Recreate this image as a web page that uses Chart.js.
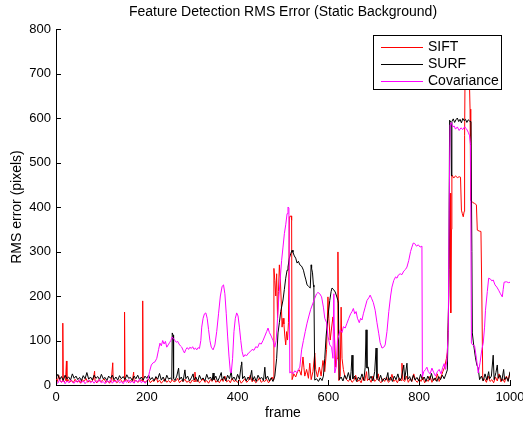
<!DOCTYPE html>
<html>
<head>
<meta charset="utf-8">
<script src="https://cdn.jsdelivr.net/npm/chart.js@4.4.1/dist/chart.umd.min.js"></script>
<style>
  html, body { margin: 0; padding: 0; background: #fff; }
  #wrap { width: 523px; height: 423px; }
</style>
</head>
<body>
<div id="wrap"><canvas id="c" width="523" height="423"></canvas></div>
<script>
// frame, RMS error (pixels)
var siftPts = [
  [0,14],[3,8],[6,22],[9,10],[12,6],[14,9],[15,139],[16,12],[18,7],[21,10],[23,54],[24,8],[27,12],[30,6],[34,11],[38,5],
  [42,13],[46,7],[50,10],[54,4],[58,12],[62,8],[66,15],[70,6],[74,10],[78,7],[82,12],[85,31],[86,9],[90,5],[94,12],[98,7],
  [102,10],[106,14],[110,6],[114,9],[118,4],[122,12],[125,50],[126,8],[130,11],[134,5],[138,9],[142,13],[146,6],[150,10],
  [151,164],[152,9],[156,12],[160,5],[164,10],[168,7],[171,29],[172,8],[176,11],[180,6],[184,9],[188,12],[190,8],[191,189],
  [192,10],[196,6],[200,9],[204,13],[208,5],[212,10],[216,8],[221,18],[224,6],[228,11],[232,4],[236,9],[240,14],[244,6],
  [248,10],[252,5],[256,12],[260,7],[264,9],[268,15],[272,5],[276,10],[280,8],[284,13],[288,6],[292,9],[296,4],[300,11],
  [304,8],[306,29],[308,7],[312,12],[316,5],[320,9],[324,14],[328,6],[332,10],[336,4],[340,12],[344,8],[348,18],[352,6],
  [356,10],[360,5],[364,13],[368,8],[372,20],[376,7],[380,11],[384,5],[388,15],[392,8],[396,10],[400,6],[404,12],[408,4],
  [412,9],[416,14],[420,6],[424,10],[428,22],[432,7],[436,12],[440,5],[444,9],[448,16],[452,6],[456,10],[460,8],[464,13],
  [468,5],[472,10],[476,18],[478,12],[480,262],[482,235],[484,200],[486,250],[488,150],[490,210],[492,270],[494,240],
  [496,191],[498,130],[500,150],[502,137],[504,110],[506,90],[508,120],[510,101],[512,140],[514,378],[518,380],[519,370],
  [520,12],[524,25],[528,18],[532,30],[536,34],[540,22],[544,63],[546,40],[548,20],[552,35],[556,15],[559,49],[562,12],
  [566,30],[570,72],[572,35],[576,18],[580,40],[584,20],[588,55],[592,30],[596,80],[599,198],[601,150],[604,101],[607,128],
  [610,153],[613,120],[616,40],[619,60],[621,299],[623,10],[626,20],[628,175],[630,60],[633,35],[636,20],[640,12],
  [644,8],[648,15],[652,6],[656,10],[660,22],[664,7],[668,12],[672,5],[676,18],[680,9],[684,30],[686,10],[690,14],[694,6],
  [698,20],[702,8],[706,12],[710,25],[712,9],[716,5],[720,14],[724,8],[728,18],[732,6],[736,10],[740,24],[744,8],[748,12],
  [752,5],[756,16],[760,10],[762,49],[764,12],[768,8],[772,20],[776,6],[780,14],[784,8],[788,25],[792,10],[796,6],[800,14],
  [804,8],[808,18],[812,5],[816,12],[820,8],[824,20],[828,6],[832,14],[836,10],[840,25],[844,8],[848,18],[852,30],[856,40],
  [860,60],[862,74],[864,140],[866,260],[868,431],[869,300],[870,162],[871,350],[872,472],[876,465],[880,470],[884,466],
  [888,468],[891,467],[893,393],[895,385],[897,378],[899,390],[900,560],[901,700],[904,720],[907,690],[910,710],[912,620],
  [913,595],[914,415],[918,410],[922,408],[926,405],[928,348],[932,346],[936,345],[938,200],[940,10],[944,14],[948,6],
  [952,20],[956,8],[960,12],[964,5],[968,18],[972,9],[976,25],[980,7],[984,14],[988,6],[992,20],[996,10],[1000,28]
];

var surfPts = [
  [0,16],[4,24],[8,12],[12,19],[16,10],[20,22],[24,14],[28,18],[32,11],[36,25],[40,15],[44,20],[48,12],[52,17],[56,10],
  [60,21],[64,14],[68,28],[72,13],[76,18],[80,11],[84,22],[88,15],[92,19],[96,12],[100,24],[104,14],[108,17],[112,10],
  [116,20],[120,15],[124,22],[128,12],[132,18],[136,11],[140,21],[144,14],[148,19],[152,12],[156,23],[160,15],[164,17],
  [168,10],[172,20],[176,14],[180,22],[184,12],[188,18],[192,11],[196,20],[200,15],[204,22],[208,12],[212,17],[216,9],
  [220,19],[224,13],[228,26],[232,11],[236,18],[240,8],[244,22],[248,13],[252,16],[255,12],[256,117],[258,112],[259,15],
  [262,10],[266,20],[270,38],[272,12],[276,18],[280,8],[284,34],[286,14],[290,20],[294,9],[298,16],[302,25],[304,11],
  [308,18],[312,8],[316,22],[320,12],[324,16],[328,9],[332,24],[336,13],[340,18],[344,10],[346,27],[348,12],[352,20],
  [356,8],[360,17],[364,28],[366,11],[370,19],[374,9],[378,22],[382,14],[386,30],[388,12],[392,18],[396,10],[400,24],
  [404,13],[408,45],[409,52],[411,14],[415,20],[419,9],[423,18],[427,12],[431,33],[433,10],[437,19],[441,8],[445,22],
  [449,14],[453,17],[457,10],[460,40],[462,13],[466,20],[470,9],[474,16],[478,8],[482,20],[486,60],[489,117],[492,140],
  [495,165],[500,191],[503,215],[506,240],[509,258],[511,265],[514,285],[517,295],[520,303],[522,298],[525,290],[528,285],
  [531,274],[534,278],[537,270],[540,268],[542,265],[545,258],[548,245],[550,238],[553,225],[556,222],[560,218],[562,270],
  [563,262],[565,252],[567,225],[568,220],[570,11],[574,14],[578,8],[582,16],[586,10],[589,20],[592,60],[595,110],
  [599,153],[603,190],[606,210],[608,218],[611,215],[615,209],[618,200],[621,190],[622,184],[624,12],[628,18],[632,9],
  [636,22],[640,13],[644,28],[648,11],[650,30],[652,67],[654,14],[658,20],[662,8],[666,18],[670,12],[674,25],[678,10],
  [681,40],[683,124],[685,38],[688,40],[690,12],[694,20],[698,9],[702,30],[705,83],[707,15],[711,10],[715,22],[719,8],
  [723,15],[727,11],[731,28],[733,10],[737,18],[741,8],[745,20],[749,12],[753,25],[757,9],[761,16],[766,45],[768,12],
  [773,49],[775,13],[779,19],[783,8],[787,22],[791,11],[795,17],[799,9],[803,24],[807,12],[811,18],[815,8],[819,20],
  [823,11],[827,26],[831,10],[835,16],[839,8],[843,19],[847,12],[851,22],[855,14],[859,25],[862,34],[865,200],[867,595],
  [870,590],[871,470],[872,592],[875,598],[878,590],[881,596],[884,600],[887,592],[890,597],[893,589],[896,599],[899,594],
  [902,597],[905,590],[908,596],[911,593],[914,592],[916,300],[917,117],[920,90],[924,61],[927,45],[930,38],[933,12],
  [937,20],[941,9],[945,25],[949,11],[953,30],[955,14],[959,20],[963,67],[965,12],[969,28],[972,45],[974,15],[978,22],
  [982,9],[986,35],[988,12],[992,18],[996,8],[1000,30]
];

var covPts = [
  [0,8],[4,4],[8,12],[12,6],[16,10],[20,3],[24,9],[28,5],[32,11],[36,7],[40,4],[44,10],[48,6],[52,12],[56,5],[60,9],
  [64,3],[68,8],[72,11],[76,5],[80,9],[84,4],[88,10],[92,6],[96,13],[100,5],[104,8],[108,3],[112,10],[116,6],[120,12],
  [124,4],[128,9],[132,7],[136,11],[140,5],[144,8],[148,3],[152,10],[156,6],[160,12],[164,5],[168,9],[172,4],[176,11],
  [180,7],[184,13],[188,5],[192,9],[196,4],[200,8],[203,15],[206,30],[210,45],[214,50],[218,52],[222,60],[226,80],
  [229,94],[232,88],[235,100],[238,92],[241,98],[244,85],[247,90],[250,95],[253,100],[256,108],[259,104],[262,100],
  [265,96],[268,98],[271,92],[274,88],[277,85],[280,78],[283,72],[286,80],[289,84],[292,80],[295,85],[298,82],[301,86],
  [304,80],[307,83],[310,79],[313,84],[316,82],[319,100],[321,130],[324,150],[327,160],[330,162],[333,150],[336,125],
  [339,100],[342,85],[346,79],[350,90],[354,120],[358,160],[362,200],[366,222],[369,225],[372,205],[375,160],[378,110],
  [381,65],[384,30],[386,27],[389,60],[392,120],[395,150],[398,162],[401,155],[404,130],[407,100],[410,75],[413,63],
  [416,68],[420,66],[424,72],[428,75],[432,80],[436,78],[440,86],[444,84],[448,94],[452,92],[456,100],[460,110],
  [464,120],[467,128],[470,118],[474,110],[478,100],[482,85],[485,100],[488,150],[491,200],[494,240],[497,280],[500,310],
  [503,340],[506,360],[509,385],[511,400],[513,398],[515,27],[518,30],[522,25],[526,32],[530,28],[534,35],[537,40],
  [541,79],[545,100],[549,120],[553,139],[557,155],[561,170],[566,184],[570,195],[574,205],[577,208],[581,205],[585,198],
  [589,175],[592,150],[596,140],[599,110],[603,90],[607,85],[610,60],[612,205],[614,27],[617,40],[620,100],[626,124],
  [630,118],[633,131],[637,128],[641,139],[645,150],[649,160],[652,165],[655,172],[658,160],[661,165],[664,150],[668,140],
  [671,150],[674,146],[677,160],[681,175],[685,190],[689,196],[692,202],[695,195],[699,185],[703,168],[707,140],[711,115],
  [714,95],[718,83],[722,85],[725,90],[729,120],[733,165],[737,200],[740,220],[744,235],[748,243],[751,240],[754,247],
  [758,250],[762,248],[766,256],[770,260],[773,265],[777,280],[781,300],[784,310],[787,319],[790,318],[794,312],[798,315],
  [802,310],[806,312],[807,18],[810,30],[814,35],[817,40],[820,30],[824,25],[828,38],[832,28],[836,20],[840,30],[844,35],
  [848,25],[852,40],[855,48],[858,35],[861,55],[864,120],[866,400],[868,584],[871,590],[874,580],[877,582],[880,575],
  [884,580],[888,572],[892,578],[896,574],[900,580],[904,576],[908,568],[911,560],[913,540],[915,94],[918,90],[922,88],
  [926,60],[930,27],[934,50],[938,80],[941,94],[944,130],[946,168],[950,210],[953,240],[957,238],[960,234],[963,236],
  [967,225],[971,220],[975,213],[979,205],[983,198],[985,215],[987,231],[992,232],[997,230],[1000,231]
];

var seriesNames = ['SIFT', 'SURF', 'Covariance'];
var seriesColors = ['#ff0000', '#000000', '#ff00ff'];
var xTicks = [0, 200, 400, 600, 800, 1000];
var yTicks = [0, 100, 200, 300, 400, 500, 600, 700, 800];

var FONT = '"Liberation Sans", Arial, Helvetica, sans-serif';

function toXY(pts) {
  return pts.map(function(p) { return { x: p[0], y: p[1] }; });
}

// matlab-ish decorations: inward ticks, title, axis labels, boxed legend
var matlabPlugin = {
  id: 'matlab',
  afterDraw: function(chart) {
    var ctx = chart.ctx, a = chart.chartArea;
    var xs = chart.scales.x, ys = chart.scales.y;
    ctx.save();
    ctx.strokeStyle = '#000';
    ctx.lineWidth = 1;
    ctx.beginPath();
    xTicks.forEach(function(t) {
      var px = Math.round(xs.getPixelForValue(t)) + 0.5;
      ctx.moveTo(px, a.bottom);
      ctx.lineTo(px, a.bottom - 5);
    });
    yTicks.forEach(function(t) {
      var py = Math.round(ys.getPixelForValue(t)) + 0.5;
      ctx.moveTo(a.left, py);
      ctx.lineTo(a.left + 5, py);
    });
    ctx.stroke();

    ctx.fillStyle = '#000';
    ctx.textAlign = 'center';
    ctx.textBaseline = 'middle';
    ctx.font = '14px ' + FONT;
    var cx = (a.left + a.right) / 2;
    ctx.fillText('Feature Detection RMS Error (Static Background)', cx, 12);
    ctx.fillText('frame', cx, 413);
    ctx.save();
    ctx.translate(17, (a.top + a.bottom) / 2);
    ctx.rotate(-Math.PI / 2);
    ctx.fillText('RMS error (pixels)', 0, 0);
    ctx.restore();

    // legend
    var lx = 373.5, ly = 35.5, lw = 128, lh = 54;
    ctx.fillStyle = '#fff';
    ctx.fillRect(lx, ly, lw, lh);
    ctx.strokeStyle = '#000';
    ctx.strokeRect(lx, ly, lw, lh);
    ctx.textAlign = 'left';
    ctx.font = '14px ' + FONT;
    seriesNames.forEach(function(name, i) {
      var yy = 47 + i * 17;
      ctx.beginPath();
      ctx.strokeStyle = seriesColors[i];
      ctx.moveTo(381, yy + 0.5);
      ctx.lineTo(423, yy + 0.5);
      ctx.stroke();
      ctx.fillStyle = '#000';
      ctx.fillText(name, 428, yy);
    });
    ctx.restore();
  }
};

function ds(i, pts, order) {
  return {
    label: seriesNames[i],
    data: toXY(pts),
    borderColor: seriesColors[i],
    backgroundColor: seriesColors[i],
    borderWidth: 1,
    pointRadius: 0,
    tension: 0,
    fill: false,
    order: order
  };
}

new Chart(document.getElementById('c').getContext('2d'), {
  type: 'line',
  data: {
    datasets: [ds(0, siftPts, 3), ds(1, surfPts, 2), ds(2, covPts, 1)]
  },
  options: {
    responsive: false,
    animation: false,
    events: [],
    layout: { padding: { top: 29, right: 13, left: 0, bottom: 0 } },
    plugins: { legend: { display: false }, tooltip: { enabled: false }, title: { display: false } },
    scales: {
      x: {
        type: 'linear',
        min: 0, max: 1000,
        afterBuildTicks: function(s) { s.ticks = xTicks.map(function(v) { return { value: v }; }); },
        afterFit: function(s) { s.height = 38; s.paddingLeft = 0; s.paddingRight = 0; },
        ticks: {
          color: '#000', font: { family: FONT, size: 13 }, padding: 5, maxRotation: 0, autoSkip: false,
          callback: function(v) { return String(v); }
        },
        grid: { display: true, drawOnChartArea: false, drawTicks: false },
        border: { display: true, color: '#000', width: 1 }
      },
      y: {
        type: 'linear',
        min: 0, max: 800,
        afterBuildTicks: function(s) { s.ticks = yTicks.map(function(v) { return { value: v }; }); },
        afterFit: function(s) { s.width = 56; s.paddingTop = 0; s.paddingBottom = 0; },
        ticks: {
          color: '#000', font: { family: FONT, size: 13 }, padding: 5, autoSkip: false,
          callback: function(v) { return String(v); }
        },
        grid: { display: true, drawOnChartArea: false, drawTicks: false },
        border: { display: true, color: '#000', width: 1 }
      }
    }
  },
  plugins: [matlabPlugin]
});
</script>
</body>
</html>
